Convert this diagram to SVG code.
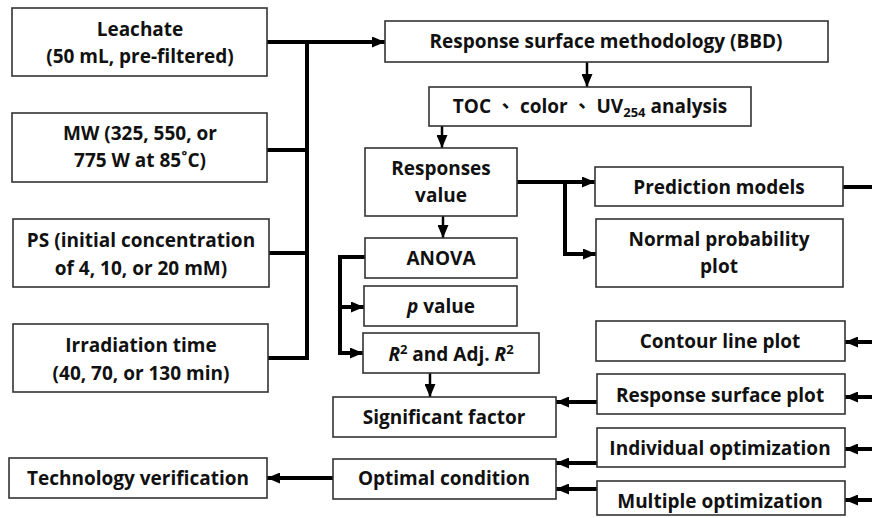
<svg xmlns="http://www.w3.org/2000/svg" width="872" height="518" viewBox="0 0 872 518">
<style>
.b{fill:#fff;stroke:#333;stroke-width:1.6}
.t{font-family:"Open Sans","Noto Sans CJK TC","Liberation Sans",sans-serif;font-weight:bold;font-size:19px;fill:#111;text-anchor:middle}
.c{fill:none;stroke:#000;stroke-width:4}
.s{fill:none;stroke:#000;stroke-width:2.5}
</style>
<defs>
<marker id="ah" viewBox="0 0 13 11" refX="13" refY="5.5" markerWidth="13" markerHeight="11" markerUnits="userSpaceOnUse" orient="auto">
<path d="M0,0L13,5.5L0,11z" fill="#000"/>
</marker>
</defs>
<rect width="872" height="518" fill="#fff"/>
<g id="connectors">
<path class="c" d="M267,42H385" marker-end="url(#ah)"/>
<path class="c" d="M307,40V360"/>
<path class="c" d="M267,150H307M269,253H307M268,358H307"/>
<path class="s" d="M587,62V87" marker-end="url(#ah)"/>
<path class="s" d="M442,126V148" marker-end="url(#ah)"/>
<path class="s" d="M443,216V238" marker-end="url(#ah)"/>
<path class="c" d="M517,182H595" marker-end="url(#ah)"/>
<path class="c" d="M565,182V254H596" marker-end="url(#ah)"/>
<path class="c" d="M843,187H872"/>
<path class="c" d="M365,257H340V353H363" marker-end="url(#ah)"/>
<path class="c" d="M340,307H364" marker-end="url(#ah)"/>
<path class="s" d="M430,373V397" marker-end="url(#ah)"/>
<path class="c" d="M597,402H556" marker-end="url(#ah)"/>
<path class="c" d="M597,463H556" marker-end="url(#ah)"/>
<path class="c" d="M597,489H556" marker-end="url(#ah)"/>
<path class="c" d="M333,478H267" marker-end="url(#ah)"/>
<path class="c" d="M872,342H845" marker-end="url(#ah)"/>
<path class="c" d="M872,397H845" marker-end="url(#ah)"/>
<path class="c" d="M872,449H845" marker-end="url(#ah)"/>
<path class="c" d="M872,500H845" marker-end="url(#ah)"/>
</g>
<g id="leachate"><rect class="b" x="12" y="8" width="255" height="68"/><text class="t" x="140" y="36">Leachate</text><text class="t" x="140" y="63">(50 mL, pre-filtered)</text></g>
<g id="mw"><rect class="b" x="12" y="113" width="255" height="69"/><text class="t" x="140" y="140">MW (325, 550, or</text><text class="t" x="140" y="167">775 W at 85˚C)</text></g>
<g id="ps"><rect class="b" x="13" y="219" width="256" height="68"/><text class="t" x="141" y="247">PS (initial concentration</text><text class="t" x="141" y="275">of 4, 10, or 20 mM)</text></g>
<g id="irradiation"><rect class="b" x="13" y="324" width="255" height="68"/><text class="t" x="141" y="352">Irradiation time</text><text class="t" x="141" y="380">(40, 70, or 130 min)</text></g>
<g id="rsm"><rect class="b" x="385" y="21" width="443" height="41"/><text class="t" x="606" y="48">Response surface methodology (BBD)</text></g>
<g id="toc"><rect class="b" x="429" y="87" width="322" height="39"/><text class="t" x="590" y="113">TOC 、 color 、 UV<tspan font-size="13" dy="4">254</tspan><tspan dy="-4"> analysis</tspan></text></g>
<g id="responses"><rect class="b" x="365" y="148" width="152" height="68"/><text class="t" x="441" y="175">Responses</text><text class="t" x="441" y="202">value</text></g>
<g id="anova"><rect class="b" x="365" y="238" width="152" height="40"/><text class="t" x="441" y="265">ANOVA</text></g>
<g id="pvalue"><rect class="b" x="364" y="286" width="153" height="40"/><text class="t" x="441" y="313"><tspan font-style="italic">p</tspan> value</text></g>
<g id="r2"><rect class="b" x="363" y="333" width="176" height="40"/><text class="t" x="451" y="361"><tspan font-style="italic">R</tspan><tspan font-size="13" dy="-7">2</tspan><tspan dy="7"> and Adj. </tspan><tspan font-style="italic">R</tspan><tspan font-size="13" dy="-7">2</tspan></text></g>
<g id="significant"><rect class="b" x="333" y="397" width="223" height="40"/><text class="t" x="444" y="424">Significant factor</text></g>
<g id="optimal"><rect class="b" x="333" y="459" width="223" height="40"/><text class="t" x="444" y="485">Optimal condition</text></g>
<g id="technology"><rect class="b" x="9" y="458" width="258" height="40"/><text class="t" x="138" y="485">Technology verification</text></g>
<g id="prediction"><rect class="b" x="595" y="167" width="248" height="39"/><text class="t" x="719" y="194">Prediction models</text></g>
<g id="normal"><rect class="b" x="596" y="219" width="247" height="68"/><text class="t" x="719" y="246">Normal probability</text><text class="t" x="719" y="273">plot</text></g>
<g id="contour"><rect class="b" x="596" y="321" width="249" height="40"/><text class="t" x="720" y="348">Contour line plot</text></g>
<g id="rsplot"><rect class="b" x="597" y="374" width="248" height="40"/><text class="t" x="720" y="402">Response surface plot</text></g>
<g id="individual"><rect class="b" x="597" y="428" width="248" height="39"/><text class="t" x="720" y="455">Individual optimization</text></g>
<g id="multiple"><rect class="b" x="597" y="481" width="248" height="34"/><text class="t" x="720" y="508">Multiple optimization</text></g>
</svg>
